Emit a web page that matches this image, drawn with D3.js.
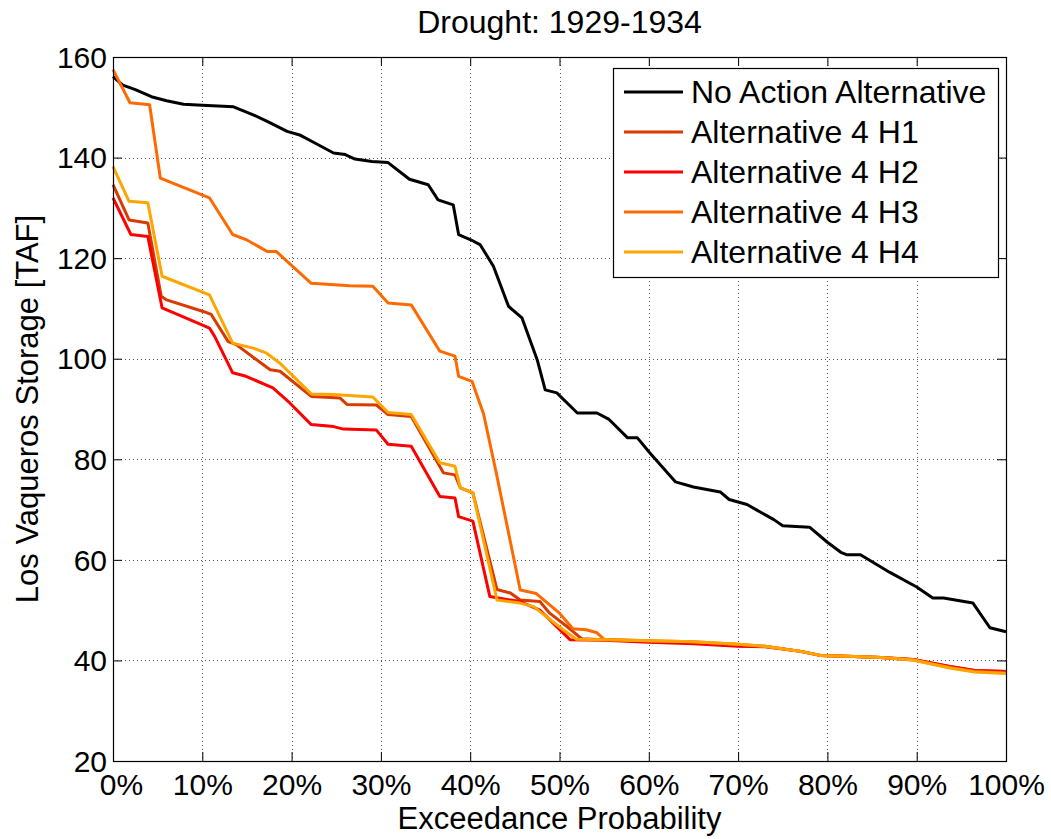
<!DOCTYPE html>
<html>
<head>
<meta charset="utf-8">
<script src="https://cdn.jsdelivr.net/npm/d3@7"></script>
<style>
	html, body { margin: 0; padding: 0; background: #fff; }
	svg { display: block; font-family: 'Liberation Sans', Arial, Helvetica, sans-serif; }
</style>
</head>
<body>
<div id="chart"></div>
<script>
// exceedance probability [%], storage [TAF]
const noAction = [
	[0, 156.1], [1.1, 154.4], [2.5, 153.5], [4.3, 152.1], [6, 151.3], [7.9, 150.6], [10, 150.4],
	[13.5, 150.1], [15.7, 148.5], [17.5, 147], [19.5, 145.2], [20.9, 144.5], [22.5, 143],
	[24.7, 140.9], [26, 140.6], [27.1, 139.7], [29, 139.2], [30.8, 139], [33.2, 135.7],
	[35.3, 134.6], [36.4, 131.6], [38.1, 130.6], [38.7, 124.7], [40, 123.7], [41.1, 122.7],
	[42.6, 118.4], [44.3, 110.4], [45.8, 108.1], [47.5, 99.8], [48.4, 93.8], [49.7, 93.2],
	[52, 89.2], [54.2, 89.2], [55.5, 88], [57.6, 84.3], [58.7, 84.3], [60.1, 81.3], [63, 75.5],
	[65, 74.5], [68, 73.5], [69, 72], [71, 71], [72, 70], [74, 68], [75, 66.8], [78, 66.5],
	[80, 63.5], [81.5, 61.5], [82.2, 61], [83.7, 61], [87, 57.5], [90, 54.6], [91.8, 52.4],
	[93, 52.4], [96.3, 51.4], [98.2, 46.5], [100, 45.7]
];

const alt4H1 = [
	[0, 134.6], [1.8, 127.6], [3.9, 127], [5.4, 112.4], [6, 111.7], [10.1, 109.4], [11, 108.8],
	[12.9, 103.4], [13.8, 102.8], [17.6, 97.8], [18.7, 97.5], [22.2, 92.5], [25.4, 92.2],
	[26.2, 90.9], [29.5, 90.8], [30.8, 88.9], [33.4, 88.5], [37, 77.3], [38.3, 76.9],
	[38.9, 74.3], [40.3, 73.3], [43, 54.1], [44.5, 53.4], [45.6, 52], [47.8, 51.7], [48.9, 49.4],
	[50.8, 46.8], [52.5, 44.3], [55, 44.1], [60, 43.8], [65, 43.5], [70, 42.9], [73, 42.8],
	[77, 41.8], [79.2, 41], [83, 40.8], [86, 40.6], [89.6, 40.2], [93.7, 38.8], [96.5, 38],
	[100, 37.8]
];

const alt4H2 = [
	[0, 132], [2, 124.7], [3.9, 124.3], [5.5, 110.1], [9.9, 106.8], [10.8, 106.1], [11.4, 104.4],
	[13.4, 97.2], [14.9, 96.5], [17.9, 94.2], [19.8, 91.2], [22.2, 86.9], [24.7, 86.5],
	[25.8, 86], [29.5, 85.8], [30.8, 83], [33.4, 82.6], [36.6, 72.6], [38.3, 72.3], [38.7, 68.6],
	[40.3, 67.7], [42.2, 52.7], [44.5, 52], [45.6, 51.7], [47.8, 50], [51.2, 44.1], [55, 44],
	[60, 43.6], [65, 43.3], [70, 42.8], [73, 42.7], [77, 41.8], [79.2, 41], [83, 40.8],
	[86, 40.6], [89.6, 40.2], [93.7, 38.8], [96.5, 38], [100, 37.8]
];

const alt4H3 = [
	[0, 157.5], [1.9, 150.9], [4.1, 150.5], [5.3, 135.9], [10.8, 132], [13.4, 124.7],
	[14.9, 123.7], [17.3, 121.3], [18.3, 121.3], [22.2, 115], [26.5, 114.5], [29.1, 114.4],
	[30.8, 111.1], [33.4, 110.7], [36.6, 101.5], [38.3, 100.5], [38.7, 96.5], [40.2, 95.5],
	[41.5, 89], [43, 76.6], [45.6, 54], [47.4, 53.3], [48.4, 51.8], [50, 49.4], [51.5, 46.3],
	[53, 46.1], [54.2, 45.5], [55, 44.2], [60, 43.9], [65, 43.7], [70, 43.2], [73, 42.8],
	[77, 41.8], [79.2, 41], [83, 40.8], [86, 40.6], [89.6, 40.1], [93.7, 38.6], [96.5, 37.8],
	[100, 37.5]
];

const alt4H4 = [
	[0, 138.2], [1.8, 131.3], [3.9, 131], [5.5, 116.4], [10.8, 112.7], [13.4, 103.1],
	[15.7, 102.1], [17.2, 101.1], [18.7, 99.1], [22.2, 93], [24.7, 92.9], [29.1, 92.4],
	[30.8, 89.3], [33.4, 88.9], [36.6, 79.3], [38.3, 78.6], [38.9, 74.3], [40.3, 73.3],
	[43, 52], [45.6, 51.4], [47.1, 50.7], [50.4, 46.1], [51.9, 44.2], [55, 44.1], [60, 43.9],
	[65, 43.7], [70, 43.2], [73, 42.8], [77, 41.8], [79.2, 41], [83, 40.8], [86, 40.6],
	[89.6, 40.1], [93.7, 38.5], [96.5, 37.7], [100, 37.4]
];

const seriesNames = [
	'No Action Alternative',
	'Alternative 4 H1',
	'Alternative 4 H2',
	'Alternative 4 H3',
	'Alternative 4 H4'
];
const seriesData = [noAction, alt4H1, alt4H2, alt4H3, alt4H4];
const seriesColors = ['#000000', '#d83a00', '#ff0000', '#ff6a00', '#ffa500'];

const xTicks = [0, 10, 20, 30, 40, 50, 60, 70, 80, 90, 100];
const yTicks = [20, 40, 60, 80, 100, 120, 140, 160];

const chartTitle = 'Drought: 1929-1934';
const xLabel = 'Exceedance Probability';
const yLabel = 'Los Vaqueros Storage [TAF]';

const width = 1051;
const height = 839;
const margin = { top: 57, right: 45, bottom: 78, left: 113 };

const svg = d3.select('#chart')
	.append('svg')
	.attr('width', width)
	.attr('height', height);

const x = d3.scaleLinear()
	.domain([0, 100])
	.range([margin.left, width - margin.right]);

const y = d3.scaleLinear()
	.domain([20, 160])
	.range([height - margin.bottom, margin.top]);

const plotW = width - margin.right - margin.left;
const plotH = height - margin.bottom - margin.top;

// grid
const grid = svg.append('g')
	.attr('class', 'grid')
	.attr('stroke', '#555')
	.attr('stroke-width', 1)
	.attr('stroke-dasharray', '1,3');

grid.selectAll('line.v')
	.data(xTicks.slice(1, -1))
	.enter()
	.append('line')
	.attr('class', 'v')
	.attr('x1', (d) => Math.round(x(d)) + 0.5)
	.attr('x2', (d) => Math.round(x(d)) + 0.5)
	.attr('y1', margin.top)
	.attr('y2', height - margin.bottom);

grid.selectAll('line.h')
	.data(yTicks.slice(1, -1))
	.enter()
	.append('line')
	.attr('class', 'h')
	.attr('x1', margin.left)
	.attr('x2', width - margin.right)
	.attr('y1', (d) => Math.round(y(d)) + 0.5)
	.attr('y2', (d) => Math.round(y(d)) + 0.5);

// series
const line = d3.line()
	.x((d) => x(d[0]))
	.y((d) => y(d[1]));

svg.append('g')
	.attr('class', 'series')
	.selectAll('path')
	.data(seriesData)
	.enter()
	.append('path')
	.attr('fill', 'none')
	.attr('stroke', (d, i) => seriesColors[i])
	.attr('stroke-width', 3)
	.attr('stroke-linejoin', 'round')
	.attr('d', line);

// axes (ticks inside, on all four sides)
const tickLen = 9;
const fontSize = 30;

const xAxisBottom = d3.axisBottom(x)
	.tickValues(xTicks)
	.tickSizeInner(-tickLen)
	.tickSizeOuter(0)
	.tickPadding(13)
	.tickFormat((d) => d + '%');

const xAxisTop = d3.axisTop(x)
	.tickValues(xTicks)
	.tickSizeInner(-tickLen)
	.tickSizeOuter(0)
	.tickFormat('');

const yAxisLeft = d3.axisLeft(y)
	.tickValues(yTicks)
	.tickSizeInner(-tickLen)
	.tickSizeOuter(0)
	.tickPadding(6);

const yAxisRight = d3.axisRight(y)
	.tickValues(yTicks)
	.tickSizeInner(-tickLen)
	.tickSizeOuter(0)
	.tickFormat('');

function styleAxis (g) {
	g.select('.domain').remove();
	g.selectAll('line').attr('stroke', '#000');
	g.selectAll('text')
		.attr('fill', '#000')
		.attr('font-size', fontSize);
}

svg.append('g')
	.attr('transform', `translate(0,${height - margin.bottom})`)
	.call(xAxisBottom)
	.call(styleAxis)
	.selectAll('text')
	.attr('dy', '0.71em')
	// the first label sits a little right of its tick, as in the original
	.attr('dx', (d) => d === 0 ? 8 : 0);

svg.append('g')
	.attr('transform', `translate(0,${margin.top})`)
	.call(xAxisTop)
	.call(styleAxis);

svg.append('g')
	.attr('transform', `translate(${margin.left},0)`)
	.call(yAxisLeft)
	.call(styleAxis)
	.selectAll('text')
	.attr('dy', '0.34em');

svg.append('g')
	.attr('transform', `translate(${width - margin.right},0)`)
	.call(yAxisRight)
	.call(styleAxis);

// box
svg.append('rect')
	.attr('x', margin.left + 0.5)
	.attr('y', margin.top + 0.5)
	.attr('width', plotW)
	.attr('height', plotH)
	.attr('fill', 'none')
	.attr('stroke', '#000')
	.attr('stroke-width', 1.2);

// title and labels
svg.append('text')
	.attr('x', x(50))
	.attr('y', 33)
	.attr('text-anchor', 'middle')
	.attr('font-size', 32)
	.text(chartTitle);

svg.append('text')
	.attr('x', x(50))
	.attr('y', 829)
	.attr('text-anchor', 'middle')
	.attr('font-size', 31)
	.text(xLabel);

svg.append('text')
	.attr('transform', `translate(38,${(margin.top + height - margin.bottom) / 2}) rotate(-90)`)
	.attr('text-anchor', 'middle')
	.attr('font-size', 31)
	.text(yLabel);

// legend
const legend = svg.append('g')
	.attr('class', 'legend')
	.attr('transform', 'translate(613,68)');

legend.append('rect')
	.attr('x', 0.5)
	.attr('y', 0.5)
	.attr('width', 385)
	.attr('height', 209)
	.attr('fill', '#fff')
	.attr('stroke', '#000')
	.attr('stroke-width', 1.2);

const legendItem = legend.selectAll('g.item')
	.data(seriesNames)
	.enter()
	.append('g')
	.attr('class', 'item')
	.attr('transform', (d, i) => `translate(0,${24 + i * 40})`);

legendItem.append('line')
	.attr('x1', 11)
	.attr('x2', 70)
	.attr('stroke', (d, i) => seriesColors[i])
	.attr('stroke-width', 3);

legendItem.append('text')
	.attr('x', 78)
	.attr('y', 11)
	.attr('font-size', 32)
	.text((d) => d);
</script>
</body>
</html>
